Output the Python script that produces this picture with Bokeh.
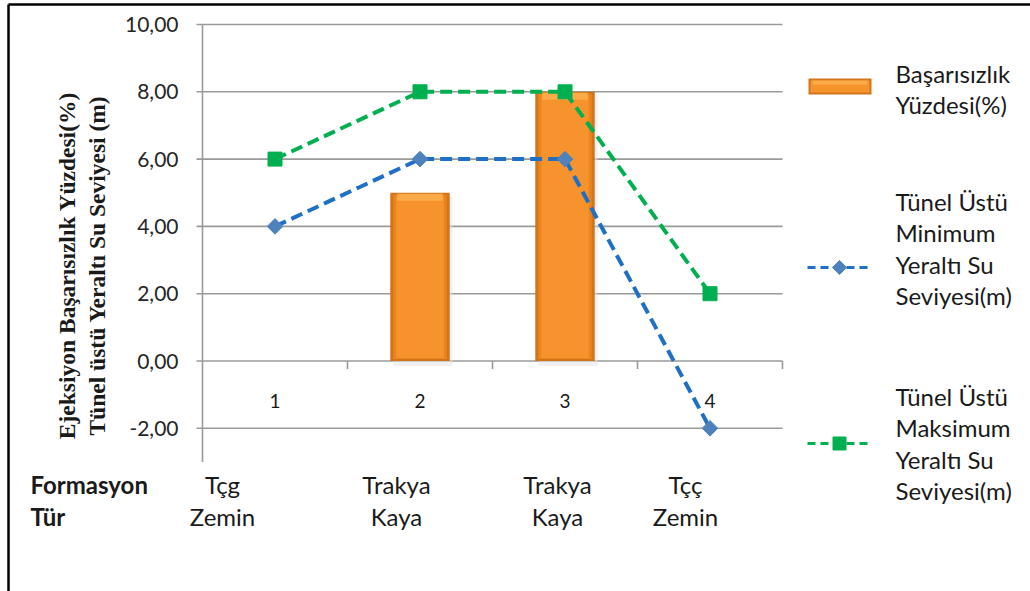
from bokeh.plotting import figure
from bokeh.models import Range1d, Label
from bokeh.embed import file_html
from bokeh.resources import INLINE
import numpy as np

# ---- data ----
categories = ["1", "2", "3", "4"]
formasyon = ["Tçg", "Trakya", "Trakya", "Tçç"]
tur = ["Zemin", "Kaya", "Kaya", "Zemin"]
basarisizlik = [0.0, 5.0, 8.0, 0.0]          # Başarısızlık Yüzdesi(%)
min_seviye = [4.0, 6.0, 6.0, -2.0]           # Tünel Üstü Minimum Yeraltı Su Seviyesi(m)
max_seviye = [6.0, 8.0, 8.0, 2.0]            # Tünel Üstü Maksimum Yeraltı Su Seviyesi(m)
y_ticks = [-2, 0, 2, 4, 6, 8, 10]
y_tick_labels = ["-2,00", "0,00", "2,00", "4,00", "6,00", "8,00", "10,00"]

W, H = 1030, 591

# scale: one category = 145 px, one unit on value axis = 33.65 px
PX, PY = 145.0, 33.65
X0 = 0.5 - 202 / PX
Y_TOP = 360.5 / PY


def dx(px):
    return X0 + px / PX


def dy(py):
    return Y_TOP - py / PY


p = figure(width=W, height=H, output_backend="svg", toolbar_location=None,
           x_range=Range1d(X0, X0 + W / PX), y_range=Range1d(Y_TOP - H / PY, Y_TOP),
           x_axis_type=None, y_axis_type=None, min_border=0)
p.grid.visible = False
p.outline_line_color = None
p.background_fill_color = "white"
p.border_fill_color = "white"

# outer frame (left and top edges)
p.segment(x0=[dx(8), dx(8)], y0=[dy(4), dy(4)], x1=[dx(1040), dx(8)], y1=[dy(4), dy(600)],
          line_color="black", line_width=2.5)

xs = np.arange(1, len(categories) + 1)
GRID = "#9a9a9a"
FONT = "Lato"
TXT = "#1a1a1a"

# gridlines with left ticks
p.segment(x0=[dx(196)] * len(y_ticks), y0=y_ticks, x1=[len(categories) + 0.5] * len(y_ticks),
          y1=y_ticks, line_color=GRID, line_width=1.6)
# vertical value axis
p.segment(x0=[0.5], y0=[max(y_ticks)], x1=[0.5], y1=[-3], line_color=GRID, line_width=1.6)
# category ticks on the zero line
bounds = xs + 0.5
p.segment(x0=bounds, y0=[0] * len(bounds), x1=bounds, y1=[-8 / PY] * len(bounds),
          line_color=GRID, line_width=1.6)

for v, lab in zip(y_ticks, y_tick_labels):
    p.add_layout(Label(x=dx(178), y=v, text=lab, text_align="right", text_baseline="middle",
                       text_font=FONT, text_font_size="21px", text_color="#262626"))

# bars with a simple bevel look
bx = [x for x, v in zip(xs, basarisizlik) if v > 0]
bv = [v for v in basarisizlik if v > 0]
BW = 0.41
p.vbar(x=[x + 3 / PX for x in bx], top=[v - 4 / PY for v in bv], bottom=-5 / PY, width=BW,
       fill_color="#e3e3e3", fill_alpha=0.5, line_color=None)
p.vbar(x=bx, top=bv, bottom=0, width=BW, fill_color="#d27419", line_color=None)
p.vbar(x=bx, top=[v - 2 / PY for v in bv], bottom=2 / PY, width=BW - 6 / PX,
       fill_color="#e9851f", line_color=None)
p.vbar(x=bx, top=[v - 3 / PY for v in bv], bottom=3 / PY, width=BW - 12 / PX,
       fill_color="#f7932d", line_color=None)
p.vbar(x=bx, top=[v - 1 / PY for v in bv], bottom=[v - 8 / PY for v in bv], width=BW - 14 / PX,
       fill_color="#fbab4a", line_color=None)

# level lines
BLUE_LINE, BLUE_MK = "#1f6fc5", "#4f81bd"
GREEN = "#00b050"
p.line(xs, min_seviye, line_color=BLUE_LINE, line_width=4, line_dash="12 6")
p.scatter(xs, min_seviye, marker="square", angle=np.pi / 4, size=11,
          fill_color=BLUE_MK, line_color=BLUE_MK)
p.line(xs, max_seviye, line_color=GREEN, line_width=4, line_dash="12 6")
p.scatter(xs, max_seviye, marker="square", size=14, fill_color=GREEN, line_color=GREEN)

# category numbers
for x, c in zip(xs, categories):
    p.add_layout(Label(x=x, y=dy(400), text=c, text_align="center", text_baseline="middle",
                       text_font=FONT, text_font_size="19px", text_color=TXT))

# formation / type table under the chart
p.add_layout(Label(x=dx(30), y=dy(498), text="Formasyon", text_font=FONT, text_font_style="bold",
                   text_font_size="24px", text_color=TXT))
p.add_layout(Label(x=dx(30), y=dy(530), text="Tür", text_font=FONT, text_font_style="bold",
                   text_font_size="24px", text_color=TXT))
col_px = [222, 396, 557, 685]
for cx, f, t in zip(col_px, formasyon, tur):
    p.add_layout(Label(x=dx(cx), y=dy(498), text=f, text_align="center", text_font=FONT,
                       text_font_size="24px", text_color=TXT))
    p.add_layout(Label(x=dx(cx), y=dy(530), text=t, text_align="center", text_font=FONT,
                       text_font_size="24px", text_color=TXT))

# value axis title
for cx, t in [(66, "Ejeksiyon Başarısızlık Yüzdesi(%)"), (96, "Tünel üstü Yeraltı Su Seviyesi (m)")]:
    p.add_layout(Label(x=dx(cx), y=dy(265), text=t, angle=np.pi / 2, text_align="center",
                       text_baseline="middle", text_font="Liberation Serif",
                       text_font_style="bold", text_font_size="23.5px", text_color=TXT))

# legend
p.quad(left=[dx(808)], right=[dx(871)], top=[dy(78)], bottom=[dy(94)],
       fill_color="#d27419", line_color=None)
p.quad(left=[dx(810)], right=[dx(869)], top=[dy(80)], bottom=[dy(92)],
       fill_color="#f7932d", line_color=None)
p.quad(left=[dx(812)], right=[dx(867)], top=[dy(80)], bottom=[dy(84)],
       fill_color="#fbab4a", line_color=None)

p.line([dx(807), dx(872)], [dy(267)] * 2, line_color=BLUE_LINE, line_width=3, line_dash="8 5")
p.scatter([dx(839)], [dy(267)], marker="square", angle=np.pi / 4, size=10,
          fill_color=BLUE_MK, line_color=BLUE_MK)
p.line([dx(807), dx(872)], [dy(443)] * 2, line_color=GREEN, line_width=3, line_dash="8 5")
p.scatter([dx(839)], [dy(443)], marker="square", size=13, fill_color=GREEN, line_color=GREEN)

legend_text = [
    (["Başarısızlık", "Yüzdesi(%)"], 87),
    (["Tünel Üstü", "Minimum", "Yeraltı Su", "Seviyesi(m)"], 215),
    (["Tünel Üstü", "Maksimum", "Yeraltı Su", "Seviyesi(m)"], 410),
]
for lines, base in legend_text:
    for i, ln in enumerate(lines):
        p.add_layout(Label(x=dx(895), y=dy(base + 31.5 * i), text=ln, text_font=FONT,
                           text_font_size="24px", text_color=TXT))

open("out.html", "w").write(file_html(p, INLINE))
